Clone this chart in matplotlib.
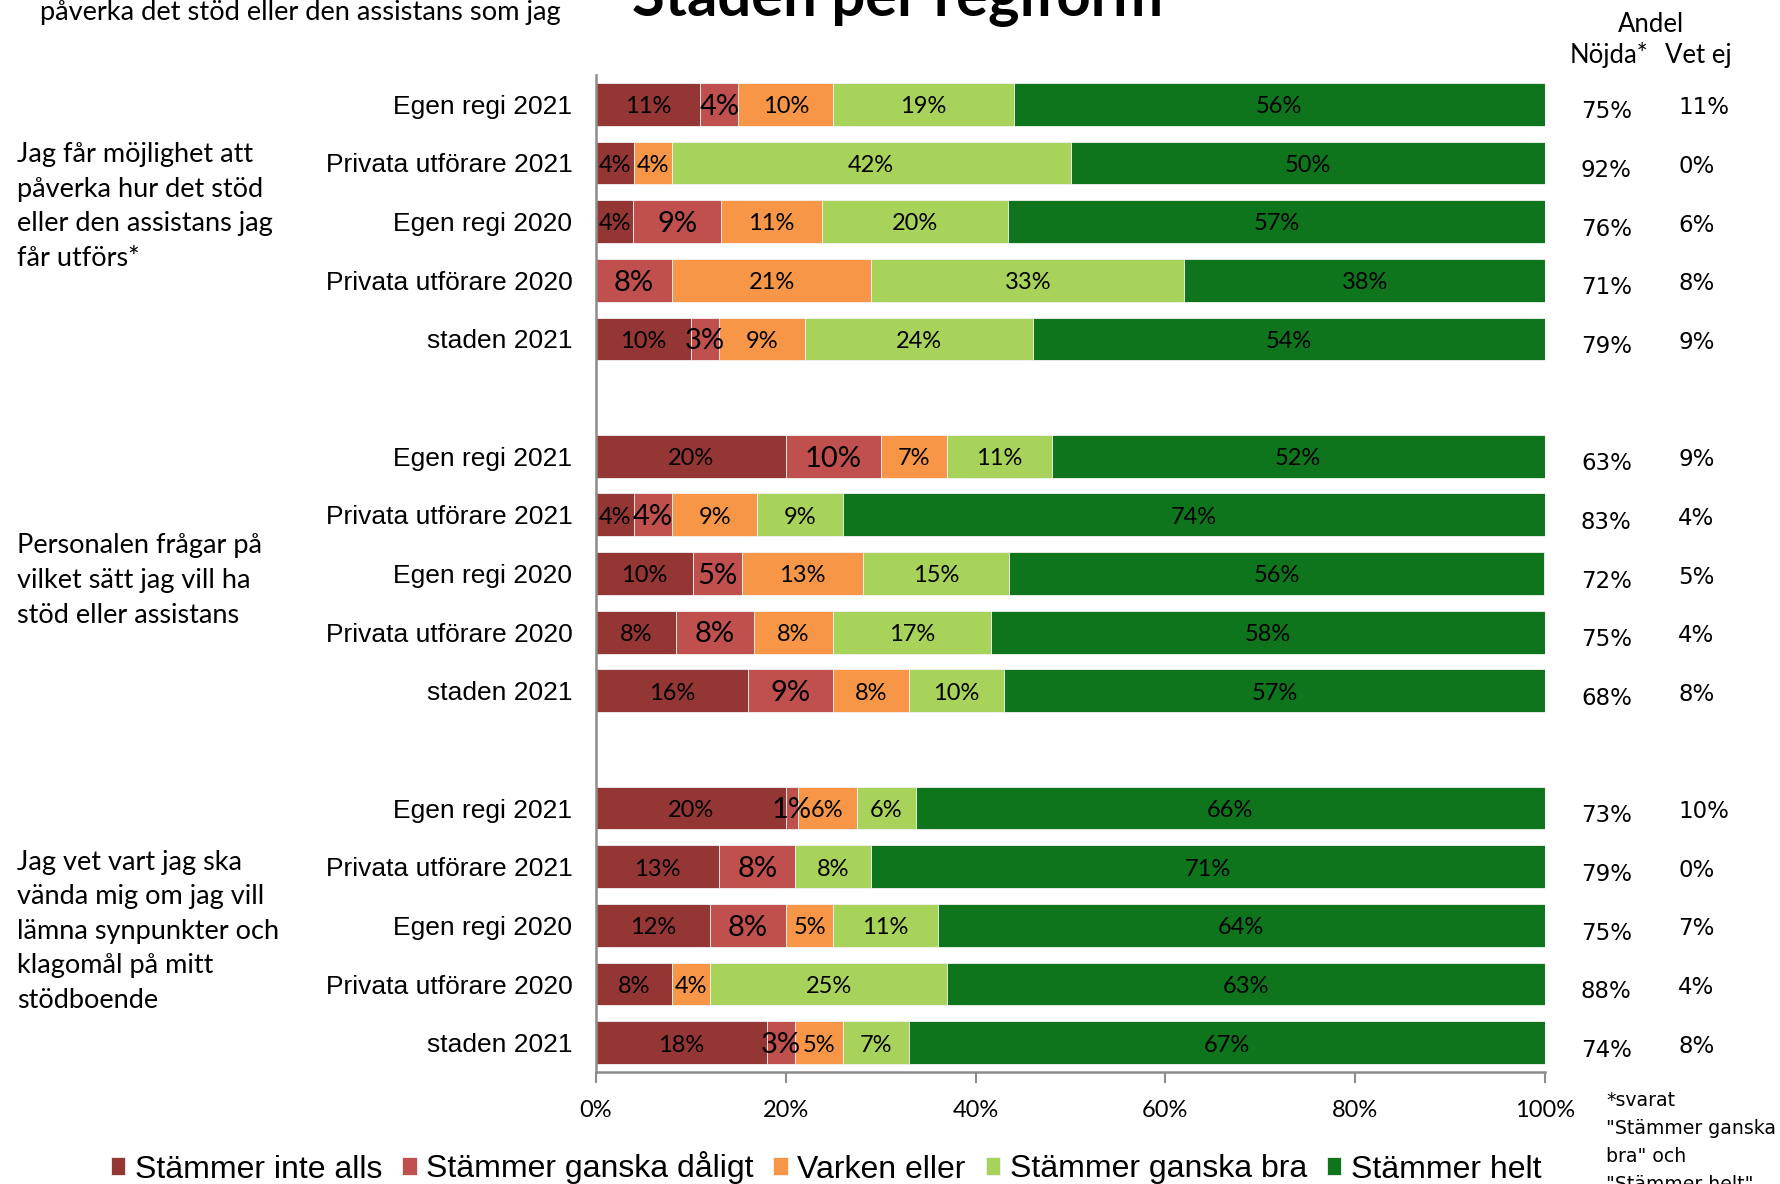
import matplotlib
matplotlib.use("Agg")
import matplotlib.pyplot as plt
import matplotlib.transforms as mtransforms
import numpy as np

# ---------------- data ----------------
categories = ["Egen regi 2021", "Privata utförare 2021", "Egen regi 2020",
              "Privata utförare 2020", "staden 2021",
              "Egen regi 2021", "Privata utförare 2021", "Egen regi 2020",
              "Privata utförare 2020", "staden 2021",
              "Egen regi 2021", "Privata utförare 2021", "Egen regi 2020",
              "Privata utförare 2020", "staden 2021"]
group_labels = ["Jag får möjlighet att\npåverka hur det stöd\neller den assistans jag\nfår utförs*",
                "Personalen frågar på\nvilket sätt jag vill ha\nstöd eller assistans",
                "Jag vet vart jag ska\nvända mig om jag vill\nlämna synpunkter och\nklagomål på mitt\nstödboende"]
series_names = ["Stämmer inte alls", "Stämmer ganska dåligt", "Varken eller",
                "Stämmer ganska bra", "Stämmer helt"]
stammer_inte_alls = [11, 4, 3.9, 0, 10, 20, 4, 10.2, 8.4, 16, 20.0, 13, 12, 8, 18]
stammer_ganska_daligt = [4, 0, 9.3, 8, 3, 10, 4, 5.2, 8.2, 9, 1.3, 8, 8, 0, 3]
varken_eller = [10, 4, 10.6, 21, 9, 7, 9, 12.7, 8.4, 8, 6.2, 0, 5, 4, 5]
stammer_ganska_bra = [19, 42, 19.6, 33, 24, 11, 9, 15.4, 16.6, 10, 6.2, 8, 11, 25, 7]
stammer_helt = [56, 50, 56.6, 38, 54, 52, 74, 56.4, 58.4, 57, 66.3, 71, 64, 63, 67]
andel_nojda = [75, 92, 76, 71, 79, 63, 83, 72, 75, 68, 73, 79, 75, 88, 74]
andel_vet_ej = [11, 0, 6, 8, 9, 9, 4, 5, 4, 8, 10, 0, 7, 4, 8]
x_ticks = [0, 20, 40, 60, 80, 100]

colors = ["#943634", "#C0504D", "#F79646", "#A8D35A", "#0F751C"]

ARIAL = ["Liberation Sans", "DejaVu Sans"]
CAL = ["Lato", "DejaVu Sans"]
WIDE = ["DejaVu Sans"]

W, H = 1780, 1184
fig = plt.figure(figsize=(W / 100, H / 100), dpi=100)
ax = fig.add_axes([596 / W, 1 - 1072 / H, (1545 - 596) / W, (1072 - 75) / H])

# positions: 5 rows per group, one blank slot between groups
ypos = [g * 6 + i for g in range(3) for i in range(5)]
all_series = [stammer_inte_alls, stammer_ganska_daligt, varken_eller,
              stammer_ganska_bra, stammer_helt]

left = np.zeros(len(categories))
for k, (vals, name, col) in enumerate(zip(all_series, series_names, colors)):
    vals = np.array(vals, dtype=float)
    ax.barh(ypos, vals, left=left, height=0.73, color=col,
            edgecolor="#f2f2f2", linewidth=0.6, label=name)
    for y, l, v in zip(ypos, left, vals):
        if v > 0:
            ax.text(l + v / 2, y + 0.04, f"{v:.0f}%", ha="center", va="center",
                    fontsize=21 if k == 1 else 17, family=CAL, color="black")
    left += vals

ax.set_xlim(0, 100)
ax.set_ylim(16.5, -0.5)
ax.set_yticks(ypos)
ax.set_yticklabels(categories, family=ARIAL, fontsize=19)
ax.tick_params(axis="y", length=0, pad=17)
ax.set_xticks(x_ticks)
ax.set_xticklabels([f"{t}%" for t in x_ticks], family=CAL, fontsize=17)
ax.tick_params(axis="x", length=8, width=1.5, color="#8c8c8c", pad=12)
for s in ["top", "right"]:
    ax.spines[s].set_visible(False)
for s in ["left", "bottom"]:
    ax.spines[s].set_color("#8c8c8c")
    ax.spines[s].set_linewidth(1.8)

# group labels on the left
trans = mtransforms.blended_transform_factory(fig.transFigure, ax.transData)
offsets = [-0.26, 0.12, 0.1]
for g, (txt, off) in enumerate(zip(group_labels, offsets)):
    ax.text(17 / W, g * 6 + 2 + off, txt, transform=trans, ha="left", va="center",
            family=CAL, fontsize=19.5, linespacing=1.48)

# right-hand columns
for y, n, v in zip(ypos, andel_nojda, andel_vet_ej):
    ax.text(1581 / W, y + 0.13, f"{n}%", transform=trans, ha="left", va="center",
            family=WIDE, fontsize=16.5)
    ax.text(1678 / W, y + 0.06, f"{v}%", transform=trans, ha="left", va="center",
            family=WIDE, fontsize=16.5)

fig.text(1651 / W, 1 - 24 / H, "Andel", ha="center", va="center", family=CAL, fontsize=18.5)
fig.text(1609 / W, 1 - 55 / H, "Nöjda*", ha="center", va="center", family=CAL, fontsize=18.5)
fig.text(1698 / W, 1 - 55 / H, "Vet ej", ha="center", va="center", family=CAL, fontsize=18.5)

fig.text(1606 / W, 1 - 1091 / H, "*svarat\n\"Stämmer ganska\nbra\" och\n\"Stämmer helt\"",
         ha="left", va="top", family=WIDE, fontsize=13.6, linespacing=1.6)

# title and cut-off subtitle line at top
fig.text(898 / W, 1 - 16 / H, "Staden per regiform", ha="center", va="baseline",
         family=CAL, fontsize=43, fontweight="bold")
fig.text(40 / W, 1 - 20 / H, "påverka det stöd eller den assistans som jag",
         ha="left", va="baseline", family=CAL, fontsize=19.6)

# legend
leg = fig.legend(loc="center left", bbox_to_anchor=(111 / W, 1 - 1168 / H), ncol=5,
                 frameon=False, prop={"family": ARIAL, "size": 23},
                 handlelength=0.45, handleheight=0.5, handletextpad=0.3,
                 columnspacing=0.62, borderpad=0, borderaxespad=0)

fig.savefig("out.png", dpi=100)
